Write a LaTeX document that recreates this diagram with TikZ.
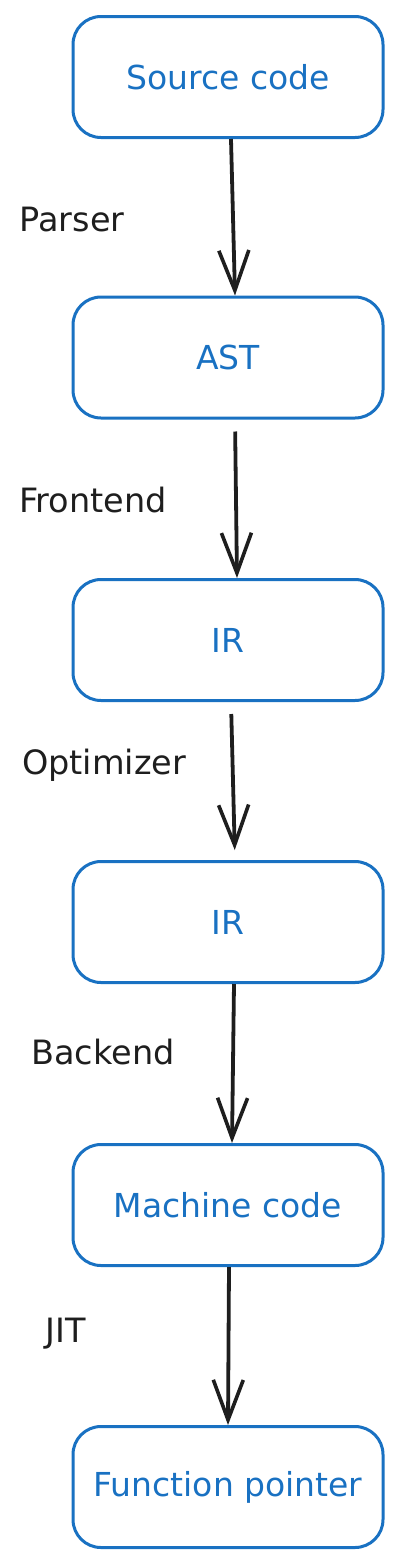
\documentclass[tikz,border=0pt]{standalone}
\usepackage{fontspec}
\setmainfont{DejaVu Sans}
\usetikzlibrary{arrows.meta}
\definecolor{boxblue}{HTML}{1971C2}
\definecolor{ink}{HTML}{1E1E1E}
\tikzset{
  stage/.style={draw=boxblue, line width=3pt, rounded corners=28pt, minimum width=310pt, minimum height=121pt, text=boxblue, font=\fontsize{33}{36}\selectfont, inner sep=0pt},
  flow/.style={draw=ink, line width=3.8pt, -{Straight Barb[length=40pt, width=30pt, line width=3.6pt]}},
  lbl/.style={text=ink, font=\fontsize{33.5}{37}\selectfont, inner sep=0pt}
}
\begin{document}
\begin{tikzpicture}[x=1pt,y=-1pt]
\useasboundingbox (0,0) rectangle (400,1566);
\node[stage] (s1) at (228,77) {Source code};
\node[stage] (s2) at (228,357.5) {AST};
\node[stage] (s3) at (228,640) {IR};
\node[stage] (s4) at (228,922) {IR};
\node[stage] (s5) at (228,1205) {Machine code};
\node[stage] (s6) at (228,1487) {Function pointer};
\draw[flow] ([xshift=3pt]s1.south) -- ([xshift=7pt]s2.north);
\draw[flow, shorten <=12pt] ([xshift=7pt]s2.south) -- ([xshift=9pt]s3.north);
\draw[flow, shorten <=12pt, shorten >=10pt] ([xshift=3pt]s3.south) -- ([xshift=7pt]s4.north);
\draw[flow] ([xshift=6pt]s4.south) -- ([xshift=4pt]s5.north);
\draw[flow] ([xshift=1pt]s5.south) -- ([xshift=0pt]s6.north);
\node[lbl] (l1) at (72,220) {Parser};
\node[lbl] (l2) at (93,500) {Frontend};
\node[lbl] (l3) at (104,765) {Optimizer};
\node[lbl] (l4) at (103,1052) {Backend};
\node[lbl] (l5) at (66,1334) {JIT};
\end{tikzpicture}
\end{document}
